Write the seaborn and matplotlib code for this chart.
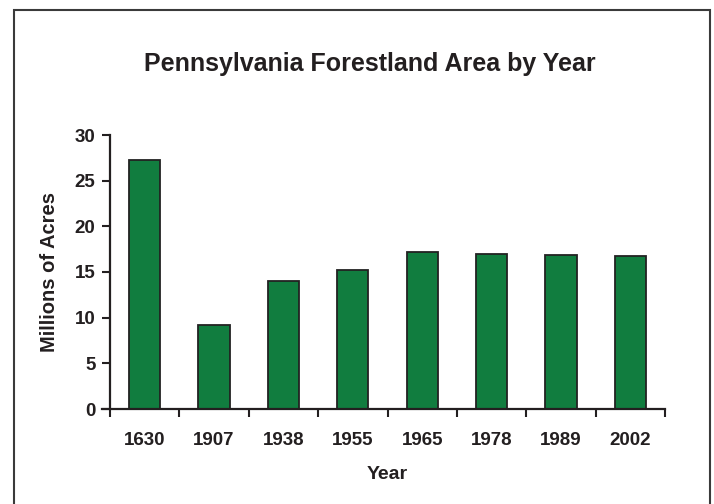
import matplotlib
matplotlib.use("Agg")
import matplotlib.pyplot as plt
import seaborn as sns
import pandas as pd
from matplotlib.patches import Rectangle
from matplotlib.ticker import FixedLocator

years = ["1630", "1907", "1938", "1955", "1965", "1978", "1989", "2002"]
acres = [27.3, 9.15, 14.0, 15.2, 17.2, 17.0, 16.85, 16.7]
yticks = [0, 5, 10, 15, 20, 25, 30]

sns.set_theme(style="white")
plt.rcParams['font.family'] = ['Liberation Sans', 'DejaVu Sans']
plt.rcParams['font.weight'] = 'bold'

df = pd.DataFrame({"Year": years, "Acres": acres})

fig = plt.figure(figsize=(7.14, 5.04), dpi=100)
ax = fig.add_axes([110/714, 1-409/504, (665-110)/714, (409-135)/504])

sns.barplot(data=df, x="Year", y="Acres", color="#117D3F", saturation=1,
            edgecolor="#222222", linewidth=1.3, width=0.45, ax=ax)

ax.set_ylim(0, 30)
ax.set_xlim(-0.5, 7.5)
ax.set_yticks(yticks)
ax.set_yticklabels([str(v) for v in yticks], fontsize=13.5, fontweight='bold', color='#231f20')
ax.set_xticks(range(len(years)))
ax.set_xticklabels(years, fontsize=13.5, fontweight='bold', color='#231f20')
ax.xaxis.set_minor_locator(FixedLocator([i - 0.5 for i in range(len(years) + 1)]))

ax.tick_params(axis='x', which='major', length=0, pad=16.5)
ax.tick_params(axis='x', which='minor', length=5.5, width=1.5, color='#231f20', direction='out', bottom=True)
ax.tick_params(axis='y', which='major', length=5.5, width=1.5, color='#231f20', direction='out', pad=5, left=True)

for s in ['top', 'right']:
    ax.spines[s].set_visible(False)
for s in ['left', 'bottom']:
    ax.spines[s].set_linewidth(1.6)
    ax.spines[s].set_color('#231f20')
ax.spines['bottom'].set_bounds(-0.5 - 8/69.4, 7.5)
ax.spines['bottom'].set_clip_on(False)

ax.set_xlabel("Year", fontsize=14, fontweight='bold', color='#231f20', labelpad=12)
ax.set_ylabel("Millions of Acres", fontsize=14.5, fontweight='bold', color='#231f20', labelpad=11)
ax.grid(False)

fig.text(370/714, 1-64/504, "Pennsylvania Forestland Area by Year", ha='center', va='center',
         fontsize=18, fontweight='bold', color='#231f20')

fig.patches.append(Rectangle((14/714, -0.05), (710-14)/714, 1.05 - 10/504, transform=fig.transFigure,
                             fill=False, edgecolor='#3a3a3a', linewidth=1.5, figure=fig))

fig.savefig("out.png", dpi=100)
